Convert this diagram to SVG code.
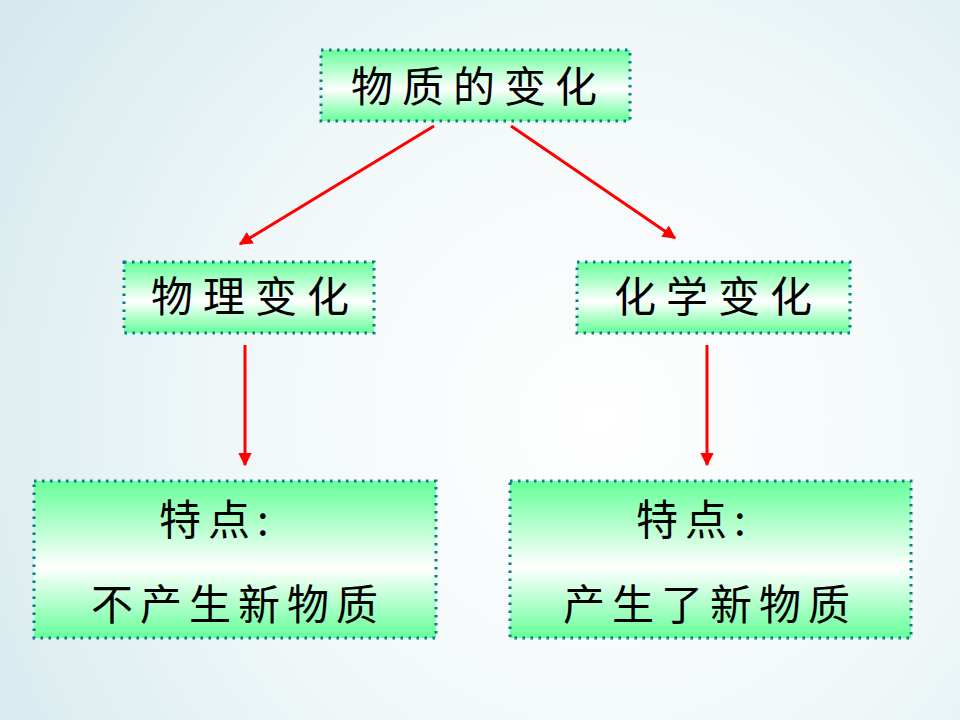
<svg xmlns="http://www.w3.org/2000/svg" width="960" height="720" viewBox="0 0 960 720">
<defs>
<radialGradient id="bg" cx="600" cy="420" r="700" gradientUnits="userSpaceOnUse">
<stop offset="0" stop-color="#ffffff"/>
<stop offset="0.5" stop-color="#f2f8f9"/>
<stop offset="1" stop-color="#d6eaee"/>
</radialGradient>
<linearGradient id="box" x1="0" y1="0" x2="0" y2="1">
<stop offset="0" stop-color="#66ff99"/>
<stop offset="0.55" stop-color="#ffffff"/>
<stop offset="1" stop-color="#66ff99"/>
</linearGradient>
<marker id="ah" viewBox="0 0 10 10" refX="9" refY="5" markerWidth="4.5" markerHeight="4.5" orient="auto" markerUnits="strokeWidth">
<path d="M0,0 L10,5 L0,10 Z" fill="#ff0000"/>
</marker>
<style>
.node rect{fill:url(#box);stroke:#008080;stroke-width:3;stroke-dasharray:2.5 5.5;stroke-linecap:butt}
.t{font-family:"Noto Sans CJK SC","Noto Sans CJK JP",sans-serif;font-size:42px;fill:#000;letter-spacing:9px}
.m{letter-spacing:10px}
.b{letter-spacing:7px}
.c line{stroke:#ff0000;stroke-width:3;marker-end:url(#ah)}
</style>
</defs>
<rect width="960" height="720" fill="url(#bg)"/>
<g id="connectors" class="c">
<line x1="434" y1="126" x2="240" y2="244"/>
<line x1="511" y1="126" x2="675" y2="238"/>
<line x1="245" y1="345" x2="245" y2="465"/>
<line x1="707" y1="345" x2="707" y2="465"/>
</g>
<g id="n-top" class="node">
<rect x="321" y="50" width="309" height="71"/>
<text class="t" x="351" y="102">物质的变化</text>
</g>
<g id="n-phys" class="node">
<rect x="124" y="262" width="250" height="71"/>
<text class="t m" x="151" y="312">物理变化</text>
</g>
<g id="n-chem" class="node">
<rect x="577" y="262" width="273" height="71"/>
<text class="t m" x="614" y="312">化学变化</text>
</g>
<g id="n-phys-feat" class="node">
<rect x="34" y="481" width="402" height="157"/>
<text class="t b" x="159" y="535">特点:</text>
<text class="t b" x="91" y="620">不产生新物质</text>
</g>
<g id="n-chem-feat" class="node">
<rect x="510" y="481" width="401" height="157"/>
<text class="t b" x="636" y="535">特点:</text>
<text class="t b" x="563" y="620">产生了新物质</text>
</g>
</svg>
